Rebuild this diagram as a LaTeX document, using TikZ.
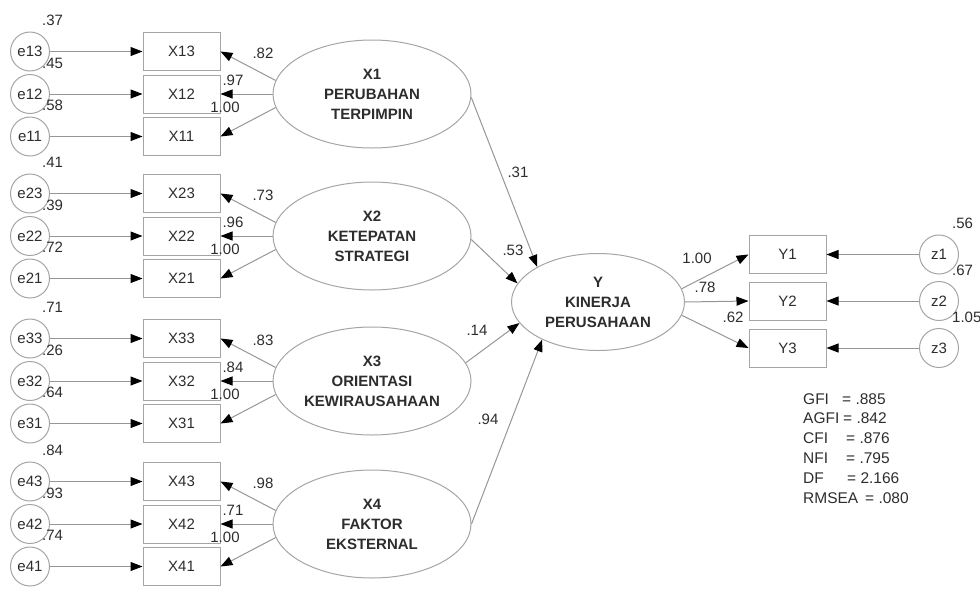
\documentclass[tikz,border=0pt]{standalone}
\usepackage{fontspec}
\setmainfont{Liberation Sans}
\usetikzlibrary{arrows.meta, positioning, shapes.geometric}
\definecolor{semLine}{RGB}{150,150,150}
\definecolor{semEdge}{RGB}{165,165,165}
\definecolor{semInk}{RGB}{45,45,45}

\begin{document}
\begin{tikzpicture}[x=1pt, y=-1pt, text=semInk,
  font=\fontsize{15}{18}\selectfont,
  obs/.style={draw=semEdge, line width=1pt, rectangle,
              minimum width=77pt, minimum height=38pt, inner sep=0pt},
  err/.style={draw=semEdge, line width=1pt, circle, minimum size=39pt, inner sep=0pt},
  lat/.style={draw=semEdge, line width=1pt, ellipse, inner sep=0pt, align=center,
              font=\fontsize{15}{20}\selectfont\bfseries},
  coef/.style={inner sep=0pt},
  link/.style={draw=semLine, line width=1pt,
               -{Triangle[length=12pt, width=9pt, color=black]}}]

\useasboundingbox (0,0) rectangle (980,603);

% Exogenous latents with their indicators
\foreach \g/\cy/\title/\va/\vb/\vc/\la/\lb/\lc in {
   1/94/{X1\\PERUBAHAN\\TERPIMPIN}/.37/.45/.58/.82/.97/1.00,
   2/236/{X2\\KETEPATAN\\STRATEGI}/.41/.39/.72/.73/.96/1.00,
   3/381/{X3\\ORIENTASI\\KEWIRAUSAHAAN}/.71/.26/.64/.83/.84/1.00,
   4/524/{X4\\FAKTOR\\EKSTERNAL}/.84/.93/.74/.98/.71/1.00}
{
  \node[lat, minimum width=198pt, minimum height=108pt] (X\g) at (372,\cy) {\title};
  \foreach \k/\dy/\ve in {3/-42.5/\va, 2/0/\vb, 1/42.5/\vc} {
    \node[obs] (X\g\k) at (181.5,\cy+\dy) {X\g\k};
    \node[err] (e\g\k) at (30,\cy+\dy) {e\g\k};
    \node[coef, anchor=west] (v\g\k) at (42,\cy+\dy-31) {\ve};
    \draw[link] (e\g\k) -- (X\g\k);
  }
  \draw[link] (X\g.172) -- (X\g3.east);
  \draw[link] (X\g.west) -- (X\g2.east);
  \draw[link] (X\g.188) -- (X\g1.east);
  \node[coef] (l\g3) at (263,\cy-41) {\la};
  \node[coef] (l\g2) at (233,\cy-14) {\lb};
  \node[coef] (l\g1) at (225,\cy+13) {\lc};
}

% Endogenous latent
\node[lat, minimum width=173pt, minimum height=97pt] (Y) at (598,302)
     {Y\\KINERJA\\PERUSAHAAN};

\foreach \g/\sa/\ta/\val/\px/\py in {
   1/-2/150/.31/518/172,
   2/-2/167/.53/513/250,
   3/11/195/.14/477/330,
   4/0/214/.94/488/419}
{
  \draw[link] (X\g.\sa) -- (Y.\ta);
  \node[coef] (b\g) at (\px,\py) {\val};
}

\foreach \k/\ry/\ang/\ve/\ld/\lx/\lyy in {
   1/254.5/9/.56/1.00/697/258,
   2/301/0/.67/.78/705/287,
   3/348/-9/1.05/.62/733/317}
{
  \node[obs] (Y\k) at (787.5,\ry) {Y\k};
  \node[err] (z\k) at (939,\ry) {z\k};
  \node[coef, anchor=west] (w\k) at (952,\ry-31) {\ve};
  \draw[link] (Y.\ang) -- (Y\k.west);
  \draw[link] (z\k) -- (Y\k);
  \node[coef] (m\k) at (\lx,\lyy) {\ld};
}

% Fit indices
\node[coef, anchor=base west, align=left, font=\fontsize{15.5}{19.8}\selectfont] (gof) at (803,503)
  {\makebox[39pt][l]{GFI}= .885\\
   \makebox[40pt][l]{AGFI}= .842\\
   \makebox[43pt][l]{CFI}= .876\\
   \makebox[43pt][l]{NFI}= .795\\
   \makebox[44pt][l]{DF}= 2.166\\
   \makebox[62pt][l]{RMSEA}= .080};

\end{tikzpicture}
\end{document}
